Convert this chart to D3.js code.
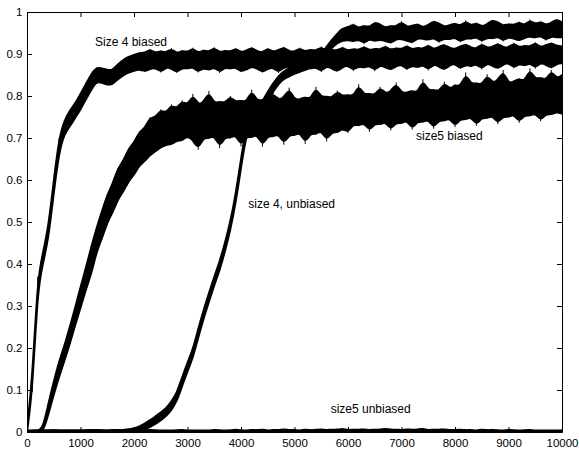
<!DOCTYPE html>
<html>
<head>
<meta charset="utf-8">
<script src="https://cdn.jsdelivr.net/npm/d3@7"></script>
<style>
  body { margin: 0; background: #fff; }
  text { font-family: "Liberation Sans", Arial, sans-serif; }
</style>
</head>
<body>
<div id="container"></div>
<script>
// chart size and plot box (px)
const width = 579;
const height = 450;
const marginTop = 12;
const marginRight = 17;
const marginBottom = 18;
const marginLeft = 27;

// tick values
const xTicks = [0, 1000, 2000, 3000, 4000, 5000, 6000, 7000, 8000, 9000, 10000];
const yTicks = [0, 0.1, 0.2, 0.3, 0.4, 0.5, 0.6, 0.7, 0.8, 0.9, 1];

// sample positions (every 100 steps) used by all the bands
const steps = d3.range(0, 10001, 100);

// size 4 biased: upper / lower edge of the noisy band
const s4bHi = [0.006, 0.125, 0.37, 0.427, 0.488, 0.598, 0.70, 0.742, 0.765, 0.782,
  0.805, 0.828, 0.852, 0.868, 0.866, 0.862, 0.861, 0.876, 0.886, 0.894,
  0.897, 0.903, 0.902, 0.912, 0.901, 0.908, 0.902, 0.914, 0.900, 0.909,
  0.903, 0.915, 0.901, 0.910, 0.904, 0.916, 0.902, 0.909, 0.904, 0.914,
  0.903, 0.908, 0.916, 0.906, 0.903, 0.914, 0.904, 0.909, 0.917, 0.906,
  0.905, 0.915, 0.904, 0.912, 0.906, 0.918, 0.905, 0.911, 0.907, 0.917,
  0.906, 0.913, 0.908, 0.919, 0.907, 0.914, 0.909, 0.920, 0.908, 0.915,
  0.910, 0.921, 0.909, 0.916, 0.911, 0.922, 0.910, 0.917, 0.923, 0.914,
  0.911, 0.918, 0.924, 0.915, 0.912, 0.925, 0.914, 0.916, 0.926, 0.915,
  0.915, 0.927, 0.914, 0.921, 0.916, 0.928, 0.915, 0.921, 0.927, 0.919, 0.918];
const s4bLo = [0, 0.095, 0.345, 0.402, 0.46, 0.57, 0.668, 0.71, 0.728, 0.748,
  0.768, 0.792, 0.815, 0.835, 0.832, 0.826, 0.828, 0.84, 0.85, 0.856,
  0.860, 0.864, 0.858, 0.865, 0.868, 0.856, 0.869, 0.866, 0.855, 0.868,
  0.865, 0.870, 0.856, 0.868, 0.861, 0.870, 0.855, 0.869, 0.864, 0.870,
  0.857, 0.863, 0.870, 0.866, 0.856, 0.865, 0.869, 0.855, 0.870, 0.867,
  0.871, 0.858, 0.872, 0.864, 0.870, 0.857, 0.873, 0.865, 0.858, 0.869,
  0.874, 0.860, 0.872, 0.866, 0.874, 0.859, 0.875, 0.868, 0.862, 0.871,
  0.876, 0.862, 0.874, 0.867, 0.876, 0.861, 0.877, 0.870, 0.862, 0.873,
  0.878, 0.864, 0.876, 0.869, 0.878, 0.863, 0.879, 0.872, 0.865, 0.875,
  0.880, 0.866, 0.878, 0.871, 0.880, 0.865, 0.881, 0.874, 0.866, 0.877, 0.878];

// size5 biased
const s5bHi = [0.002, 0.002, 0.003, 0.009, 0.068, 0.12, 0.168, 0.205, 0.25, 0.295,
  0.345, 0.39, 0.44, 0.485, 0.525, 0.565, 0.59, 0.628, 0.645, 0.675,
  0.688, 0.715, 0.722, 0.750, 0.748, 0.768, 0.758, 0.780, 0.768, 0.790,
  0.776, 0.805, 0.778, 0.784, 0.812, 0.780, 0.788, 0.782, 0.800, 0.785,
  0.790, 0.784, 0.815, 0.787, 0.792, 0.786, 0.808, 0.790, 0.795, 0.820,
  0.790, 0.792, 0.798, 0.791, 0.822, 0.795, 0.800, 0.794, 0.813, 0.798,
  0.804, 0.797, 0.828, 0.801, 0.807, 0.800, 0.822, 0.805, 0.810, 0.832,
  0.806, 0.808, 0.813, 0.806, 0.840, 0.811, 0.816, 0.809, 0.834, 0.814,
  0.828, 0.820, 0.856, 0.826, 0.832, 0.824, 0.852, 0.830, 0.836, 0.862,
  0.828, 0.835, 0.842, 0.833, 0.866, 0.838, 0.845, 0.836, 0.862, 0.840, 0.85];
const s5bLo = [0, 0, 0, 0, 0.042, 0.09, 0.132, 0.17, 0.21, 0.255,
  0.295, 0.34, 0.375, 0.43, 0.46, 0.5, 0.522, 0.555, 0.572, 0.598,
  0.612, 0.635, 0.645, 0.660, 0.668, 0.678, 0.684, 0.685, 0.694, 0.694,
  0.705, 0.696, 0.672, 0.703, 0.698, 0.708, 0.676, 0.704, 0.699, 0.710,
  0.680, 0.706, 0.700, 0.711, 0.679, 0.707, 0.702, 0.712, 0.684, 0.709,
  0.705, 0.716, 0.686, 0.713, 0.708, 0.720, 0.692, 0.716, 0.712, 0.724,
  0.712, 0.735, 0.728, 0.738, 0.715, 0.736, 0.731, 0.740, 0.718, 0.738,
  0.734, 0.744, 0.720, 0.741, 0.737, 0.746, 0.722, 0.744, 0.740, 0.749,
  0.726, 0.747, 0.743, 0.752, 0.729, 0.750, 0.746, 0.755, 0.733, 0.753,
  0.749, 0.758, 0.736, 0.756, 0.752, 0.761, 0.740, 0.759, 0.755, 0.763, 0.758];

// size 4, unbiased
const s4uHi = [0.003, 0.003, 0.004, 0.003, 0.004, 0.003, 0.004, 0.003, 0.004, 0.003,
  0.004, 0.003, 0.004, 0.005, 0.004, 0.003, 0.005, 0.004, 0.005, 0.006,
  0.009, 0.013, 0.02, 0.028, 0.037, 0.046, 0.056, 0.072, 0.093, 0.13,
  0.165, 0.196, 0.245, 0.29, 0.33, 0.37, 0.405, 0.45, 0.5, 0.565,
  0.65, 0.73, 0.755, 0.772, 0.787, 0.81, 0.83, 0.847, 0.859, 0.865,
  0.871, 0.876, 0.88, 0.885, 0.89, 0.899, 0.917, 0.934, 0.948, 0.962,
  0.963, 0.972, 0.960, 0.969, 0.962, 0.976, 0.971, 0.961, 0.968, 0.964,
  0.978, 0.963, 0.967, 0.972, 0.962, 0.969, 0.979, 0.973, 0.964, 0.968,
  0.974, 0.965, 0.980, 0.966, 0.975, 0.964, 0.971, 0.981, 0.976, 0.966,
  0.972, 0.968, 0.977, 0.967, 0.982, 0.970, 0.978, 0.968, 0.974, 0.983, 0.975];
const s4uLo = [0, 0, 0, 0, 0, 0, 0, 0, 0, 0,
  0, 0, 0, 0, 0, 0, 0, 0, 0, 0,
  0, 0, 0.005, 0.012, 0.019, 0.028, 0.038, 0.052, 0.073, 0.11,
  0.145, 0.176, 0.225, 0.27, 0.31, 0.35, 0.385, 0.43, 0.48, 0.545,
  0.63, 0.71, 0.735, 0.752, 0.767, 0.79, 0.81, 0.829, 0.841, 0.847,
  0.853, 0.858, 0.862, 0.867, 0.872, 0.881, 0.899, 0.916, 0.926, 0.932,
  0.934, 0.929, 0.936, 0.924, 0.937, 0.930, 0.935, 0.931, 0.925, 0.936,
  0.936, 0.932, 0.926, 0.938, 0.937, 0.933, 0.940, 0.927, 0.938, 0.934,
  0.941, 0.928, 0.939, 0.935, 0.942, 0.929, 0.940, 0.936, 0.943, 0.930,
  0.941, 0.937, 0.931, 0.939, 0.942, 0.938, 0.945, 0.932, 0.943, 0.939, 0.94];

// size5 unbiased: stays on zero, only a thin wobble
const s5uHi = [0.003, 0.004, 0.003, 0.004, 0.003, 0.005, 0.003, 0.004, 0.003, 0.004,
  0.003, 0.004, 0.005, 0.003, 0.004, 0.003, 0.004, 0.005, 0.003, 0.004,
  0.003, 0.004, 0.003, 0.005, 0.004, 0.003, 0.004, 0.003, 0.004, 0.005,
  0.003, 0.004, 0.003, 0.004, 0.003, 0.005, 0.004, 0.003, 0.004, 0.006,
  0.004, 0.003, 0.005, 0.004, 0.006, 0.003, 0.005, 0.004, 0.007, 0.004,
  0.005, 0.003, 0.006, 0.004, 0.005, 0.007, 0.004, 0.006, 0.005, 0.008,
  0.004, 0.006, 0.005, 0.007, 0.004, 0.006, 0.005, 0.008, 0.005, 0.006,
  0.004, 0.007, 0.005, 0.006, 0.008, 0.004, 0.006, 0.005, 0.007, 0.004,
  0.005, 0.006, 0.004, 0.005, 0.003, 0.006, 0.004, 0.005, 0.004, 0.003,
  0.005, 0.004, 0.003, 0.004, 0.005, 0.003, 0.004, 0.003, 0.004, 0.003, 0.004];

const bands = [
  { name: "size5 unbiased", hi: s5uHi, lo: s5uHi.map(() => 0) },
  { name: "size5 biased", hi: s5bHi, lo: s5bLo },
  { name: "Size 4 biased", hi: s4bHi, lo: s4bLo },
  { name: "size 4, unbiased", hi: s4uHi, lo: s4uLo }
];

// labels written inside the plot, placed in data units
const labels = [
  { text: "Size 4 biased", x: 1271, y: 0.918 },
  { text: "size5 biased", x: 7271, y: 0.695 },
  { text: "size 4, unbiased", x: 4136, y: 0.533 },
  { text: "size5 unbiased", x: 5676, y: 0.045 }
];

const x = d3.scaleLinear()
    .domain([0, 10000])
    .range([marginLeft, width - marginRight]);

const y = d3.scaleLinear()
    .domain([0, 1])
    .range([height - marginBottom, marginTop]);

const svg = d3.create("svg")
    .attr("width", width)
    .attr("height", height);

svg.append("defs").append("clipPath")
    .attr("id", "plot")
  .append("rect")
    .attr("x", marginLeft)
    .attr("y", marginTop)
    .attr("width", width - marginLeft - marginRight)
    .attr("height", height - marginTop - marginBottom);

// core of each band: smoothed through the sampled edges
const core = d3.area()
    .curve(d3.curveBasis)
    .x((d, i) => x(steps[i]))
    .y0(d => y(d[0]))
    .y1(d => y(d[1]));

const plot = svg.append("g").attr("clip-path", "url(#plot)");

const band = plot.selectAll("g.band")
  .data(bands)
  .join("g")
    .attr("class", "band");

band.append("path")
    .attr("fill", "#000")
    .attr("stroke", "#000")
    .attr("stroke-width", 2)
    .attr("d", b => core(b.lo.map((v, i) => [v, b.hi[i]])));

// the noise spikes: one thin stroke per sample, from low to high edge
band.selectAll("line")
  .data(b => b.lo.map((v, i) => ({ x: steps[i], lo: v, hi: b.hi[i] })))
  .join("line")
    .attr("x1", d => x(d.x))
    .attr("x2", d => x(d.x))
    .attr("y1", d => y(d.lo))
    .attr("y2", d => y(d.hi))
    .attr("stroke", "#000")
    .attr("stroke-width", 1);

// axes, MATLAB style: ticks inside on all four sides
const fontSize = "11.5px";

svg.append("g")
    .attr("transform", `translate(0,${height - marginBottom})`)
    .call(d3.axisBottom(x).tickValues(xTicks).tickFormat(d3.format("d")).tickSizeInner(-5).tickSizeOuter(0).tickPadding(7))
    .call(g => g.selectAll("text").attr("font-size", fontSize).attr("fill", "#000"));

svg.append("g")
    .attr("transform", `translate(${marginLeft},0)`)
    .call(d3.axisLeft(y).tickValues(yTicks).tickFormat(d3.format("~g")).tickSizeInner(-5).tickSizeOuter(0).tickPadding(4.5))
    .call(g => g.selectAll("text").attr("font-size", fontSize).attr("fill", "#000"));

svg.append("g")
    .attr("transform", `translate(0,${marginTop})`)
    .call(d3.axisTop(x).tickValues(xTicks).tickFormat("").tickSizeInner(-5).tickSizeOuter(0));

svg.append("g")
    .attr("transform", `translate(${width - marginRight},0)`)
    .call(d3.axisRight(y).tickValues(yTicks).tickFormat("").tickSizeInner(-5).tickSizeOuter(0));

svg.selectAll(".domain, .tick line").attr("stroke", "#000");

svg.append("g")
  .selectAll("text")
  .data(labels)
  .join("text")
    .attr("x", d => x(d.x))
    .attr("y", d => y(d.y))
    .attr("font-size", "12px")
    .attr("fill", "#000")
    .text(d => d.text);

container.append(svg.node());
</script>
</body>
</html>
